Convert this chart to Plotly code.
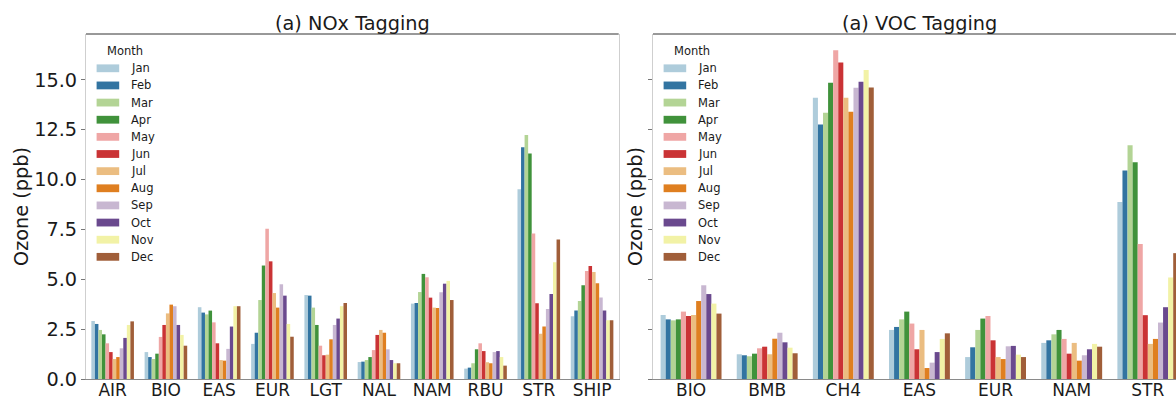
import plotly.graph_objects as go

# ---------------- data ----------------
months = ["Jan", "Feb", "Mar", "Apr", "May", "Jun", "Jul", "Aug", "Sep", "Oct", "Nov", "Dec"]
month_colors = ["#aeccdb", "#3274a1", "#b3d495", "#40923b", "#efa6a5", "#ca3335",
                "#ebbd81", "#df7f20", "#c8b7d1", "#6a498e", "#f2f2a6", "#a05e39"]

nox_categories = ["AIR", "BIO", "EAS", "EUR", "LGT", "NAL", "NAM", "RBU", "STR", "SHIP"]
nox_AIR = [2.91, 2.76, 2.46, 2.24, 1.79, 1.35, 1.00, 1.10, 1.54, 2.06, 2.71, 2.89]
nox_BIO = [1.35, 1.10, 1.00, 1.27, 2.11, 2.71, 3.29, 3.73, 3.65, 2.71, 2.21, 1.67]
nox_EAS = [3.60, 3.33, 3.24, 3.43, 2.84, 1.79, 0.95, 0.92, 1.51, 2.63, 3.65, 3.65]
nox_EUR = [1.76, 2.32, 3.96, 5.69, 7.53, 5.90, 4.31, 3.58, 4.75, 4.18, 2.76, 2.12]
nox_LGT = [4.21, 4.18, 3.58, 2.71, 1.67, 1.19, 1.22, 1.99, 2.71, 3.03, 3.65, 3.81]
nox_NAL = [0.85, 0.87, 0.95, 1.10, 1.45, 2.21, 2.46, 2.32, 1.49, 0.95, 0.79, 0.79]
nox_NAM = [3.78, 3.81, 4.36, 5.27, 5.10, 4.08, 3.58, 3.56, 4.35, 4.78, 4.92, 3.96]
nox_RBU = [0.52, 0.57, 0.79, 1.49, 1.79, 1.40, 0.84, 0.79, 1.35, 1.40, 1.10, 0.67]
nox_STR = [9.52, 11.62, 12.23, 11.31, 7.29, 3.80, 2.27, 2.63, 3.51, 4.26, 5.85, 6.99]
nox_SHIP = [3.15, 3.43, 3.91, 4.70, 5.41, 5.67, 5.37, 4.80, 4.09, 3.43, 2.95, 2.94]

voc_categories = ["BIO", "BMB", "CH4", "EAS", "EUR", "NAM", "STR"]
voc_BIO = [3.21, 2.99, 2.94, 2.99, 3.38, 3.16, 3.21, 3.91, 4.70, 4.26, 3.78, 3.28]
voc_BMB = [1.24, 1.19, 1.14, 1.27, 1.54, 1.62, 1.24, 2.02, 2.32, 1.84, 1.57, 1.29]
voc_CH4 = [14.10, 12.76, 13.35, 14.85, 16.49, 15.87, 14.10, 13.40, 14.60, 14.90, 15.50, 14.62]
voc_EAS = [2.46, 2.61, 2.99, 3.38, 2.78, 1.49, 2.46, 0.55, 0.82, 1.35, 2.01, 2.29]
voc_EUR = [1.10, 1.59, 2.46, 3.03, 3.16, 1.94, 1.10, 1.00, 1.64, 1.66, 1.22, 1.10]
voc_NAM = [1.81, 1.94, 2.24, 2.46, 2.01, 1.27, 1.81, 0.92, 1.19, 1.49, 1.76, 1.62]
voc_STR = [8.88, 10.45, 11.72, 10.87, 6.77, 3.20, 1.76, 2.01, 2.83, 3.60, 5.09, 6.31]

y_ticks = [0, 2.5, 5, 7.5, 10, 12.5, 15]
y_tick_labels = ["0.0", "2.5", "5.0", "7.5", "10.0", "12.5", "15.0"]

nox_values = [nox_AIR, nox_BIO, nox_EAS, nox_EUR, nox_LGT, nox_NAL, nox_NAM, nox_RBU, nox_STR, nox_SHIP]
voc_values = [voc_BIO, voc_BMB, voc_CH4, voc_EAS, voc_EUR, voc_NAM, voc_STR]

# ---------------- geometry helpers ----------------
W, H = 1176, 400
TOP, BOTTOM = 34, 379          # plot area in px
L1, R1 = 86, 618.7             # left panel spines
L2 = 653                       # right panel left spine
FONT = "DejaVu Sans"
TXT = "#1a1a1a"


def px(x):
    return x / W


def py(y):
    return (BOTTOM - y) / (BOTTOM - TOP)


fig = go.Figure()

for i, m in enumerate(months):
    fig.add_trace(go.Bar(
        x=nox_categories, y=[row[i] for row in nox_values], name=m,
        marker=dict(color=month_colors[i], line=dict(width=0)),
        xaxis="x", yaxis="y", showlegend=False))
for i, m in enumerate(months):
    fig.add_trace(go.Bar(
        x=voc_categories, y=[row[i] for row in voc_values], name=m,
        marker=dict(color=month_colors[i], line=dict(width=0)),
        xaxis="x2", yaxis="y2", showlegend=False))

shapes = []
annotations = []

# top spines
shapes.append(dict(type="line", xref="paper", yref="paper", x0=px(L1), x1=px(R1),
                   y0=1, y1=1, line=dict(color="#333333", width=1)))
shapes.append(dict(type="line", xref="paper", yref="paper", x0=px(L2), x1=1,
                   y0=1, y1=1, line=dict(color="#333333", width=1)))

# manual legends (matplotlib-style)
entry_y0, entry_dy = 68.3, 17.14
for spine in (L1, L2):
    annotations.append(dict(text="Month", xref="paper", yref="paper",
                            x=px(spine + 18.5), y=py(51), xanchor="left", yanchor="middle",
                            showarrow=False, font=dict(family=FONT, size=11.5, color=TXT)))
    for i, m in enumerate(months):
        yc = entry_y0 + i * entry_dy
        shapes.append(dict(type="rect", xref="paper", yref="paper",
                           x0=px(spine + 10.6), x1=px(spine + 33.2),
                           y0=py(yc + 3.9), y1=py(yc - 3.9),
                           fillcolor=month_colors[i], line=dict(width=0)))
        annotations.append(dict(text=m, xref="paper", yref="paper",
                                x=px(spine + 42.8), y=py(yc), xanchor="left", yanchor="middle",
                                showarrow=False, font=dict(family=FONT, size=11.5, color=TXT)))

# titles
annotations.append(dict(text="(a) NOx Tagging", xref="paper", yref="paper",
                        x=px(352.4), y=py(23.5), xanchor="center", yanchor="middle",
                        showarrow=False, font=dict(family=FONT, size=19.3, color=TXT)))
annotations.append(dict(text="(a) VOC Tagging", xref="paper", yref="paper",
                        x=px(919.5), y=py(23.5), xanchor="center", yanchor="middle",
                        showarrow=False, font=dict(family=FONT, size=19.3, color=TXT)))
# y-axis titles
for xc in (22, 636):
    annotations.append(dict(text="Ozone (ppb)", xref="paper", yref="paper",
                            x=px(xc), y=py(207), xanchor="center", yanchor="middle",
                            textangle=-90, showarrow=False,
                            font=dict(family=FONT, size=19.3, color=TXT)))

axis_common = dict(showgrid=False, zeroline=False, fixedrange=True, automargin=False)

fig.update_layout(
    width=W, height=H, autosize=False,
    margin=dict(l=0, r=0, t=TOP, b=H - BOTTOM, pad=0, autoexpand=False),
    paper_bgcolor="white", plot_bgcolor="white",
    barmode="group", bargap=0.2, bargroupgap=0,
    showlegend=False,
    font=dict(family=FONT, color=TXT),
    xaxis=dict(domain=[px(L1), px(R1)], range=[-0.5, 9.5], anchor="y",
               showline=True, linecolor="#8a8a8a", linewidth=1,
               ticks="", ticklabelstandoff=-4,
               tickfont=dict(family=FONT, size=17, color=TXT), **axis_common),
    yaxis=dict(domain=[0, 1], range=[0, 17.3], anchor="x",
               tickvals=y_ticks, ticktext=y_tick_labels,
               showline=True, mirror=True, linecolor="#cfcfcf", linewidth=1,
               ticks="outside", ticklen=4, tickcolor="#777777",
               tickfont=dict(family=FONT, size=19.3, color=TXT), **axis_common),
    xaxis2=dict(domain=[px(L2), 1], range=[-0.5, 6.37], anchor="y2",
                showline=True, linecolor="#8a8a8a", linewidth=1,
                ticks="", ticklabelstandoff=-4,
                tickfont=dict(family=FONT, size=17, color=TXT), **axis_common),
    yaxis2=dict(domain=[0, 1], range=[0, 17.3], anchor="x2", matches="y",
                tickvals=y_ticks, showticklabels=False,
                showline=True, linecolor="#cfcfcf", linewidth=1,
                ticks="outside", ticklen=4, tickcolor="#777777", **axis_common),
    shapes=shapes,
    annotations=annotations,
)

fig.write_html("out.html", config={"displayModeBar": False})
